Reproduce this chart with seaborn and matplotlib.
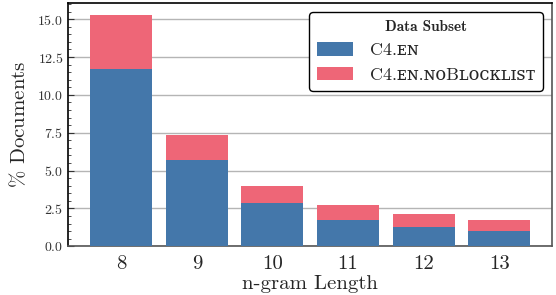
import numpy as np
import pandas as pd
import matplotlib
matplotlib.use("Agg")
import matplotlib.pyplot as plt
import seaborn as sns
from matplotlib.ticker import MultipleLocator

# valeurs
ngram = ["8", "9", "10", "11", "12", "13"]
c4_en = [11.7, 5.7, 2.85, 1.73, 1.25, 0.99]
c4_noblocklist = [15.3, 7.35, 3.96, 2.71, 2.12, 1.72]
labels = ["C4.ᴇɴ", "C4.ᴇɴ.ɴᴏBʟᴏᴄᴋʟɪꜱᴛ"]
colors = ["#4477AA", "#EE6677"]

df = pd.DataFrame({"ngram": ngram, "en": c4_en, "nob": c4_noblocklist})

sns.set_style("white")
plt.rcParams["font.family"] = ["cmr10", "DejaVu Serif"]
plt.rcParams["axes.formatter.use_mathtext"] = True
plt.rcParams["mathtext.fontset"] = "cm"

fig, ax = plt.subplots(figsize=(5.56, 2.95), dpi=100)

# barre totale (rouge) d'abord, puis C4.en (bleu) par-dessus
sns.barplot(data=df, x="ngram", y="nob", color=colors[1], width=0.82,
            saturation=1, ax=ax, label=labels[1], zorder=2, linewidth=0)
sns.barplot(data=df, x="ngram", y="en", color=colors[0], width=0.82,
            saturation=1, ax=ax, label=labels[0], zorder=3, linewidth=0)

ax.set_xlim(-0.7, 5.7)
ax.set_ylim(0, 16.07)
ax.yaxis.set_major_locator(MultipleLocator(2.5))
ax.yaxis.set_minor_locator(MultipleLocator(0.5))
ax.yaxis.grid(True, color="#b5b5b5", linewidth=1.0, zorder=0)
ax.set_axisbelow(True)
ax.tick_params(axis="y", which="major", direction="in", length=4, width=0.8,
               labelsize=10, left=True, colors="#333333")
ax.tick_params(axis="y", which="minor", direction="in", length=2, width=0.6,
               left=True, color="#333333")
ax.tick_params(axis="x", length=0, labelsize=15, pad=6)
ax.set_xlabel("n-gram Length", fontsize=15, labelpad=2)
ax.set_ylabel(r"$\%$ Documents", fontsize=15, labelpad=6)

for side in ["left", "top"]:
    ax.spines[side].set_color("black")
    ax.spines[side].set_linewidth(1.2)
for side in ["bottom", "right"]:
    ax.spines[side].set_color("#555555")
    ax.spines[side].set_linewidth(1.2)

handles, labs = ax.get_legend_handles_labels()
order = [labs.index(labels[0]), labs.index(labels[1])]
leg = ax.legend([handles[i] for i in order], [labs[i] for i in order],
                title="Data Subset", loc="upper right", fontsize=13,
                title_fontproperties={"family": "cmb10", "size": 11},
                frameon=True, fancybox=True, edgecolor="black",
                framealpha=1, handlelength=2.0, handleheight=0.8,
                handletextpad=0.9, borderpad=0.45, labelspacing=0.45,
                bbox_to_anchor=(1.0, 1.0))
leg.get_frame().set_linewidth(1.0)

plt.subplots_adjust(left=0.123, right=0.993, top=0.99, bottom=0.165)
plt.savefig("out.png", dpi=100)
